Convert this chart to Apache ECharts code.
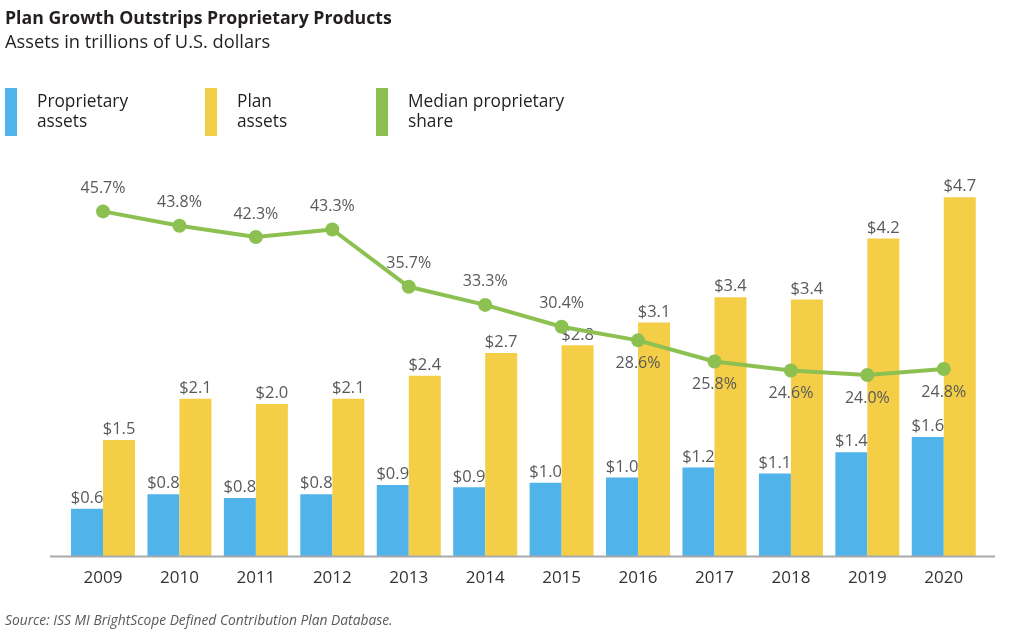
<!DOCTYPE html>
<html>
<head>
<meta charset="utf-8">
<script src="https://cdn.jsdelivr.net/npm/echarts@6/dist/echarts.min.js"></script>
<style>
html,body{margin:0;padding:0;background:#fff;}
#chart{width:1024px;height:630px;}
</style>
</head>
<body>
<div id="chart"></div>
<script>
const years = ['2009','2010','2011','2012','2013','2014','2015','2016','2017','2018','2019','2020'];
const proprietaryAssets = [0.62, 0.81, 0.76, 0.81, 0.93, 0.90, 0.96, 1.03, 1.16, 1.08, 1.36, 1.56];
const planAssets = [1.52, 2.06, 1.99, 2.06, 2.36, 2.66, 2.76, 3.06, 3.39, 3.36, 4.16, 4.70];
const medianShare = [45.7, 43.8, 42.3, 43.3, 35.7, 33.3, 30.4, 28.6, 25.8, 24.6, 24.0, 24.8];
const shareLabelAbove = [true, true, true, true, true, true, true, false, false, false, false, false];

const FONT = '"Open Sans"';
const BLUE = '#50b3e9';
const YELLOW = '#f5ce47';
const GREEN = '#8cc152';
const TXT = '#58595b';

const chart = echarts.init(document.getElementById('chart'), null, {renderer: 'canvas'});

const legendText = {
  'Proprietary assets': 'Proprietary\nassets',
  'Plan assets': 'Plan\nassets',
  'Median proprietary share': 'Median proprietary\nshare'
};
function mkLegend(name, left) {
  return {
    data: [{name: name, icon: 'rect'}],
    left: left, top: 83,
    itemWidth: 12, itemHeight: 48,
    selectedMode: false,
    formatter: n => legendText[n],
    textStyle: {fontFamily: FONT, fontSize: 17.3, color: '#231f20', lineHeight: 20, padding: [0,0,0,15]}
  };
}

const option = {
  backgroundColor: '#fff',
  animation: false,
  title: [
    {text: 'Plan Growth Outstrips Proprietary Products', left: 0, top: 4,
     textStyle: {fontFamily: FONT, fontSize: 17.7, fontWeight: 'bold', color: '#231f20', lineHeight: 20}},
    {text: 'Assets in trillions of U.S. dollars', left: 0, top: 28,
     textStyle: {fontFamily: FONT, fontSize: 18.3, fontWeight: 'normal', color: '#231f20', lineHeight: 20}},
    {text: 'Source: ISS MI BrightScope Defined Contribution Plan Database.', left: 0, top: 609,
     textStyle: {fontFamily: FONT, fontSize: 13.8, fontStyle: 'italic', fontWeight: 'normal', color: '#58595b', lineHeight: 14}}
  ],
  legend: [
    mkLegend('Proprietary assets', 0),
    mkLegend('Plan assets', 200),
    mkLegend('Median proprietary share', 371)
  ],
  grid: {left: 64.8, right: 42, top: 98, bottom: 74},
  xAxis: {
    type: 'category', data: years,
    axisLine: {show: false}, axisTick: {show: false},
    axisLabel: {fontFamily: FONT, fontSize: 17, color: '#333', margin: 14}
  },
  yAxis: [
    {type: 'value', min: 0, max: 6, show: false, splitLine: {show: false}},
    {type: 'value', min: 0, max: 60.74, show: false, splitLine: {show: false}}
  ],
  series: [
    {name: 'Proprietary assets', type: 'bar', data: proprietaryAssets, barWidth: 32, barGap: '0%',
     itemStyle: {color: BLUE},
     label: {show: true, position: 'top', distance: 2, fontFamily: FONT, fontSize: 16.5, color: TXT,
             formatter: p => '$' + p.value.toFixed(1)}},
    {name: 'Plan assets', type: 'bar', data: planAssets, barWidth: 32, barGap: '0%',
     itemStyle: {color: YELLOW},
     label: {show: true, position: 'top', distance: 2, fontFamily: FONT, fontSize: 16.5, color: TXT,
             formatter: p => '$' + p.value.toFixed(1)}},
    {name: 'Median proprietary share', type: 'line', yAxisIndex: 1, z: 5,
     data: medianShare.map((v, i) => ({
       value: v,
       label: {position: shareLabelAbove[i] ? 'top' : 'bottom'}
     })),
     symbol: 'circle', symbolSize: 14,
     lineStyle: {color: GREEN, width: 4},
     itemStyle: {color: GREEN},
     label: {show: true, distance: 8, fontFamily: FONT, fontSize: 16, color: TXT,
             formatter: p => p.value.toFixed(1) + '%'}}
  ],
  graphic: [
    {type: 'line', z: 10, shape: {x1: 50, y1: 556.5, x2: 995, y2: 556.5},
     style: {stroke: '#a7a9ac', lineWidth: 2}}
  ]
};
chart.setOption(option);
</script>
</body>
</html>
